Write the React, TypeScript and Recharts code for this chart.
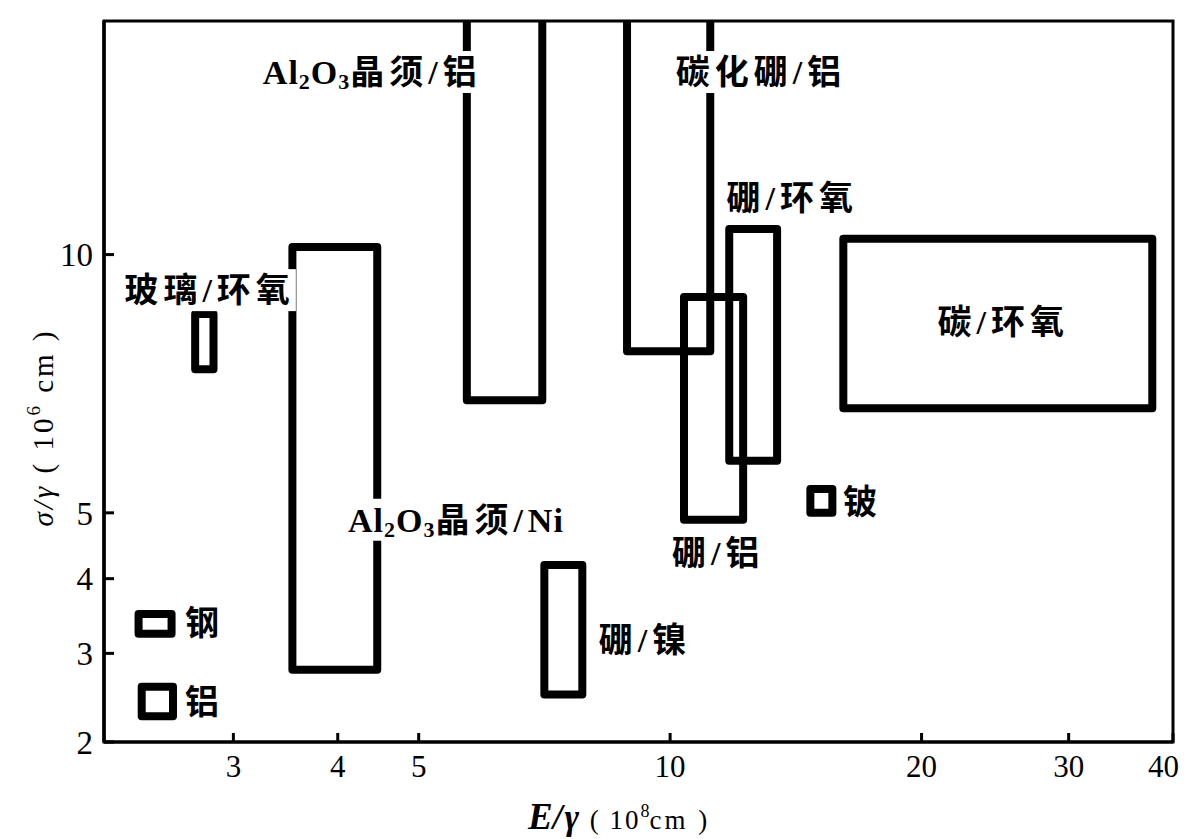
import React from 'react';
import { ScatterChart, Scatter, XAxis, YAxis, ReferenceArea } from 'recharts';

// ---- axes ----
const xTicks = [3, 4, 5, 10, 20, 30, 40];
const yTicks = [2, 3, 4, 5, 10];
const xDomain = [2.1, 40];
const yDomain = [2, 16];

// ---- material regions (E/γ in 10^8 cm, σ/γ in 10^6 cm) ----
const materials = ['玻璃/环氧', 'Al₂O₃晶须/Ni', 'Al₂O₃晶须/铝', '碳化硼/铝', '硼/铝', '硼/环氧', '碳/环氧', '铍', '硼/镍', '钢', '铝'];
const modulusLow = [2.70, 3.53, 5.71, 8.88, 10.39, 11.77, 16.12, 14.72, 7.07, 2.31, 2.33];
const modulusHigh = [2.84, 4.46, 7.03, 11.17, 12.23, 13.43, 37.78, 15.64, 7.85, 2.53, 2.54];
const strengthLow = [7.57, 2.80, 6.97, 7.93, 4.89, 5.87, 6.82, 5.00, 2.51, 3.25, 2.27];
const strengthHigh = [8.70, 10.17, 20, 20, 9.06, 10.59, 10.36, 5.39, 4.20, 3.51, 2.60];

// ---- region labels ----
const labelTexts = ['Al₂O₃晶须/铝', '碳化硼/铝', '硼/环氧', '碳/环氧', '玻璃/环氧', 'Al₂O₃晶须/Ni', '硼/镍', '硼/铝', '铍', '钢', '铝'];
const labelModulus = [4.40, 12.85, 14.0, 25.05, 2.81, 5.54, 9.33, 11.42, 17.0, 2.77, 2.77];
const labelStrength = [14.57, 14.57, 11.33, 8.53, 9.21, 4.89, 3.17, 4.38, 5.18, 3.39, 2.43];

const labelData = labelTexts.map((text, i) => ({ text, e: labelModulus[i], s: labelStrength[i] }));

const LABEL_FAMILY = "'Liberation Serif', 'Noto Sans CJK SC', serif";
const LABEL_SIZE = 34;
const SUB_SIZE = 22;
const CJK_SP = 5;
const LATIN_SP = 1;
const SUBS: Record<string, string> = { '₂': '2', '₃': '3' };

let measureCtx: CanvasRenderingContext2D | null = null;
function textWidth(t: string, size: number): number {
  if (typeof document === 'undefined') return t.length * size;
  if (!measureCtx) measureCtx = document.createElement('canvas').getContext('2d');
  if (!measureCtx) return t.length * size;
  measureCtx.font = `bold ${size}px ${LABEL_FAMILY}`;
  return measureCtx.measureText(t).width;
}

type Seg = { t: string; sub: boolean; cjk: boolean };
const isCjk = (ch: string) => /[\u3400-\u9fff]/.test(ch);

function LabelShape(props: any) {
  const { cx, cy, payload } = props;
  if (cx == null || cy == null || !payload) return null;
  const segs: Seg[] = [];
  for (const ch of Array.from(payload.text as string)) {
    const sub = ch in SUBS;
    const t = sub ? SUBS[ch] : ch;
    const cjk = isCjk(ch) || ch === '/';
    const last = segs[segs.length - 1];
    if (last && last.sub === sub && last.cjk === cjk) last.t += t;
    else segs.push({ t, sub, cjk });
  }
  let w = 0;
  for (const s of segs) {
    w += textWidth(s.t, s.sub ? SUB_SIZE : LABEL_SIZE) + (s.cjk ? CJK_SP : LATIN_SP) * Array.from(s.t).length;
  }
  const x0 = cx - w / 2;
  let shift = 0;
  return (
    <g>
      <rect x={x0 - 3} y={cy - 21} width={w + 4} height={42} fill="#fff" />
      <text x={x0} y={cy} dominantBaseline="central" fontFamily={LABEL_FAMILY} fontWeight={700} fontSize={LABEL_SIZE} fill="#000">
        {segs.map((s, i) => {
          const dy = s.sub ? 9 - shift : -shift;
          shift = s.sub ? 9 : 0;
          return (
            <tspan key={i} dy={dy} fontSize={s.sub ? SUB_SIZE : LABEL_SIZE} letterSpacing={s.cjk ? CJK_SP : LATIN_SP}>
              {s.t}
            </tspan>
          );
        })}
      </text>
    </g>
  );
}

const AXIS_FONT = "'Liberation Serif', serif";

function XTick(props: any) {
  const { x, y, payload } = props;
  const last = payload.value === xTicks[xTicks.length - 1];
  return (
    <text
      x={last ? x + 6 : x}
      y={y}
      dy="0.71em"
      textAnchor={last ? 'end' : 'middle'}
      fontFamily={AXIS_FONT}
      fontSize={31}
      fill="#000"
    >
      {payload.value}
    </text>
  );
}

function YTick(props: any) {
  const { x, y, payload } = props;
  return (
    <text x={x} y={y} dy="0.355em" textAnchor="end" fontFamily={AXIS_FONT} fontSize={33} fill="#000">
      {payload.value}
    </text>
  );
}

function XTitle(props: any) {
  const vb = props.viewBox || { x: 96, y: 734, width: 1069, height: 97 };
  const x = vb.x + 424;
  const y = vb.y + 87;
  return (
    <text x={x} y={y} fontFamily={AXIS_FONT} fill="#000">
      <tspan fontSize={37} fontStyle="italic" fontWeight={700}>E</tspan>
      <tspan fontSize={35} fontStyle="italic" fontWeight={700} letterSpacing={2}>/γ</tspan>
      <tspan fontSize={27} letterSpacing={2}> ( 10</tspan>
      <tspan fontSize={18} dy={-12}>8</tspan>
      <tspan fontSize={27} dy={12} letterSpacing={3}>cm )</tspan>
    </text>
  );
}

function YTitle(props: any) {
  const vb = props.viewBox || { x: 0, y: 13, width: 96, height: 721 };
  const cx = vb.x + 35;
  const cy = vb.y + vb.height / 2 + 46;
  return (
    <text
      x={cx}
      y={cy}
      transform={`rotate(-90, ${cx}, ${cy})`}
      textAnchor="middle"
      dominantBaseline="central"
      fontFamily={AXIS_FONT}
      fontSize={29}
      letterSpacing={3}
      fill="#000"
    >
      <tspan fontStyle="italic">σ/γ</tspan>
      <tspan> ( 10</tspan>
      <tspan fontSize={19} dy={-10}>6</tspan>
      <tspan dy={10}> cm )</tspan>
    </text>
  );
}

export default function App() {
  return (
    <div style={{ padding: '8px 0 0 8px', background: '#fff' }}>
      <style>{'html,body{margin:0;padding:0;background:#fff;}'}</style>
      <ScatterChart width={1171} height={831} margin={{ top: 13, right: 6, bottom: 0, left: 0 }}>
        <XAxis
          dataKey="e"
          type="number"
          scale="log"
          domain={xDomain}
          allowDataOverflow
          ticks={xTicks}
          interval={0}
          height={97}
          tickSize={-9}
          tickMargin={22}
          axisLine={{ stroke: '#000', strokeWidth: 3 }}
          tickLine={{ stroke: '#000', strokeWidth: 3 }}
          tick={<XTick />}
          label={<XTitle />}
        />
        <YAxis
          dataKey="s"
          type="number"
          scale="sqrt"
          domain={yDomain}
          allowDataOverflow
          ticks={yTicks}
          interval={0}
          width={96}
          tickSize={-10}
          tickMargin={21}
          axisLine={{ stroke: '#000', strokeWidth: 3.5 }}
          tickLine={{ stroke: '#000', strokeWidth: 3 }}
          tick={<YTick />}
          label={<YTitle />}
        />
        <ReferenceArea
          x1={xDomain[0]}
          x2={xDomain[1]}
          y1={yDomain[0]}
          y2={yDomain[1]}
          fill="none"
          fillOpacity={0}
          stroke="#000"
          strokeWidth={3}
          ifOverflow="visible"
        />
        {materials.map((m, i) => (
          <ReferenceArea
            key={m}
            x1={modulusLow[i]}
            x2={modulusHigh[i]}
            y1={strengthLow[i]}
            y2={strengthHigh[i]}
            fill="none"
            fillOpacity={0}
            stroke="#000"
            strokeWidth={8}
            strokeLinejoin="round"
            ifOverflow="hidden"
          />
        ))}
        <Scatter data={labelData} dataKey="s" shape={<LabelShape />} isAnimationActive={false} />
      </ScatterChart>
    </div>
  );
}
